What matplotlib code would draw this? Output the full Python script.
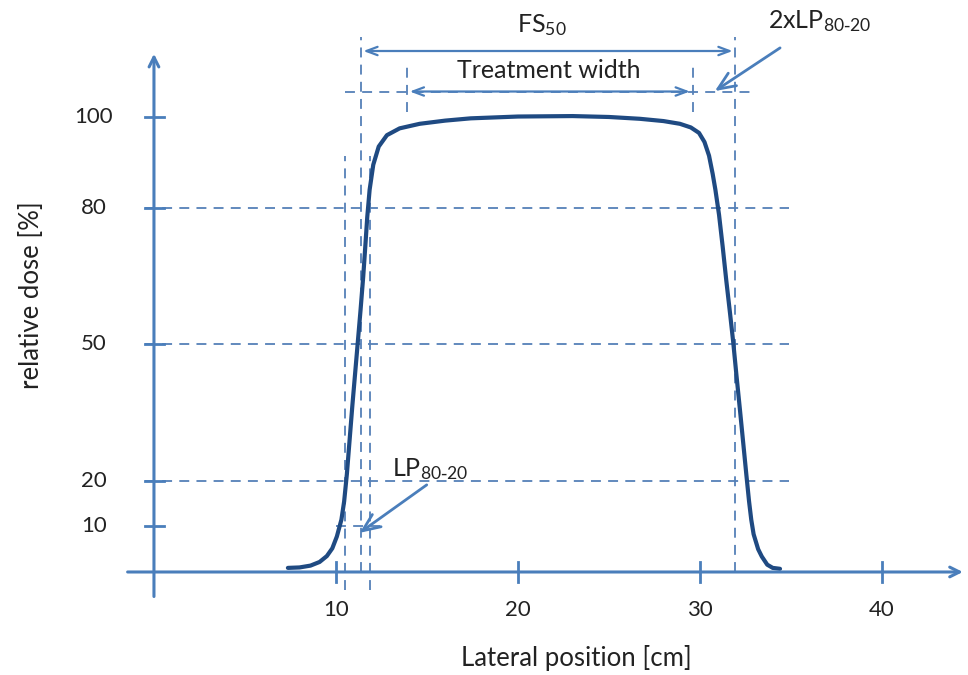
import matplotlib.pyplot as plt

plt.rcParams['font.family'] = ['Lato', 'DejaVu Sans']
plt.rcParams['mathtext.default'] = 'regular'

# dose profile
profile_x = [7.36, 8.0, 8.6, 9.1, 9.5, 9.8, 10.05, 10.3, 10.45, 10.6, 10.75, 10.9, 11.05,
             11.2, 11.35, 11.5, 11.62, 11.72, 11.85, 12.05, 12.35, 12.8, 13.5, 14.6, 16.0,
             17.4, 20.0, 23.0, 25.0, 26.7, 28.0, 28.9, 29.5, 29.95, 30.25, 30.5, 30.7,
             30.85, 31.05, 31.25, 31.45, 31.65, 31.83, 32.0, 32.2, 32.4, 32.56, 32.7,
             32.82, 32.95, 33.2, 33.4, 33.7, 34.0, 34.4]
profile_y = [0.9, 1.0, 1.4, 2.2, 3.5, 5.2, 7.8, 11.5, 15.5, 21.5, 29.0, 36.5, 43.5,
             50.5, 57.5, 65.0, 72.0, 78.0, 84.0, 89.5, 93.5, 96.0, 97.5, 98.5, 99.2,
             99.7, 100.1, 100.2, 100.0, 99.6, 99.1, 98.5, 97.7, 96.5, 94.5, 91.5, 87.5,
             84.0, 78.5, 71.5, 64.0, 57.0, 50.5, 43.5, 35.6, 27.5, 21.0, 15.5,
             11.5, 8.3, 5.0, 3.4, 1.6, 0.9, 0.7]

x_ticks = [10, 20, 30, 40]
y_ticks = [10, 20, 50, 80, 100]
level_lines = [80, 50, 20]

fs50 = [11.35, 31.95]
treatment = [13.9, 29.6]
lp_left = [10.5, 11.85]
top_level = 105.6

axis_c = '#4a7ebb'
dash_c = '#5580b8'
curve_c = '#1f4a82'
text_c = '#222222'

fig = plt.figure(figsize=(9.68, 6.75), dpi=100)
ax = fig.add_axes([0, 0, 1, 1])
ax.set_xlim(-8.46, 44.73)
ax.set_ylim(-22.64, 125.71)
ax.axis('off')

dash = dict(color=dash_c, lw=1.3, ls=(0, (5.5, 4)))

# horizontal guide lines
for v in level_lines:
    ax.plot([-0.5, 34.9], [v, v], **dash)
ax.plot([10.0, 12.8], [10, 10], **dash)
ax.plot([10.5, 33.0], [top_level, top_level], **dash)

# vertical guide lines
for v in fs50:
    ax.plot([v, v], [0, 117.5], **dash)
for v in treatment:
    ax.plot([v, v], [101, 111], **dash)
for v in lp_left:
    ax.plot([v, v], [-4, 91.5], **dash)

# axes with arrows
ax.annotate('', xy=(44.6, 0), xytext=(-1.6, 0),
            arrowprops=dict(arrowstyle='->,head_length=0.7,head_width=0.35', color=axis_c, lw=2.2))
ax.annotate('', xy=(0, 114.5), xytext=(0, -6),
            arrowprops=dict(arrowstyle='->,head_length=0.7,head_width=0.35', color=axis_c, lw=2.2))
for t in x_ticks:
    ax.plot([t, t], [-2.2, 2.2], color=axis_c, lw=2)
    ax.text(t, -8.4, str(t), ha='center', va='center', fontsize=16, color=text_c)
for t in y_ticks:
    ax.plot([-0.5, 0.55], [t, t], color=axis_c, lw=2)
    ax.text(-3.3, t, str(t), ha='center', va='center', fontsize=16, color=text_c)

ax.text(23.2, -19.0, 'Lateral position [cm]', ha='center', va='center', fontsize=18.5, color=text_c)
ax.text(-6.75, 60.9, 'relative dose [%]', ha='center', va='center', rotation=90, fontsize=18.5, color=text_c)

# profile
ax.plot(profile_x, profile_y, color=curve_c, lw=3.0, solid_capstyle='round')

# dimension arrows
ax.annotate('', xy=(fs50[1], 114.5), xytext=(fs50[0], 114.5),
            arrowprops=dict(arrowstyle='<->,head_length=0.8,head_width=0.3', color=axis_c, lw=1.6))
ax.annotate('', xy=(treatment[1], top_level), xytext=(treatment[0], top_level),
            arrowprops=dict(arrowstyle='<->,head_length=0.8,head_width=0.3', color=axis_c, lw=1.6))
ax.text(21.3, 120.2, 'FS$_{50}$', ha='center', va='center', fontsize=18, color=text_c)
ax.text(21.7, 110.2, 'Treatment width', ha='center', va='center', fontsize=18, color=text_c)

ax.annotate('2xLP$_{80\\text{-}20}$', xy=(30.82, 105.7), xytext=(36.6, 121.0),
            ha='center', va='center', fontsize=18, color=text_c,
            arrowprops=dict(arrowstyle='->,head_length=0.7,head_width=0.3', color=axis_c, lw=2,
                            shrinkA=14, shrinkB=0))
ax.annotate('LP$_{80\\text{-}20}$', xy=(11.3, 8.6), xytext=(13.1, 22.6),
            ha='left', va='center', fontsize=18, color=text_c,
            arrowprops=dict(arrowstyle='->,head_length=0.7,head_width=0.3', color=axis_c, lw=2,
                            shrinkA=0, shrinkB=0, relpos=(0.5, 0.0)))

fig.savefig('out.png', dpi=100)
